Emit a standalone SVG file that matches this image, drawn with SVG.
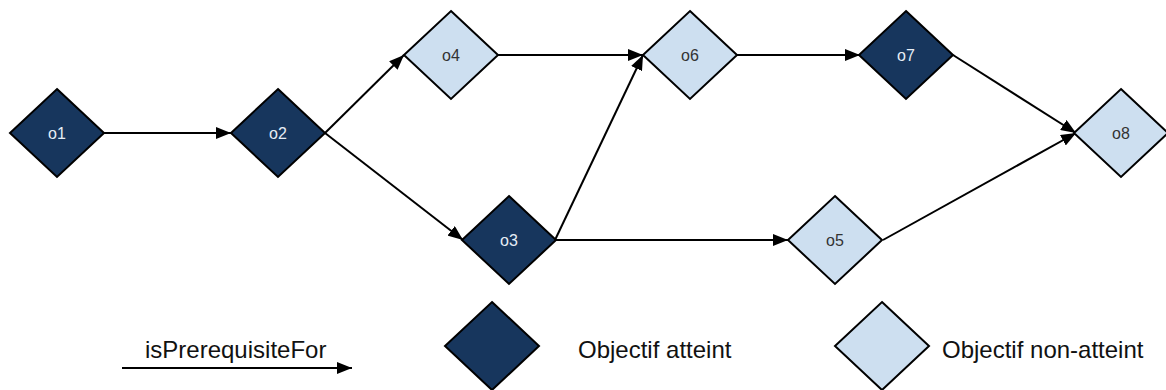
<svg xmlns="http://www.w3.org/2000/svg" width="1166" height="390" viewBox="0 0 1166 390">
<style>
.dk{fill:#17365d;stroke:#000;stroke-width:2;stroke-linejoin:miter}
.lt{fill:#cddff0;stroke:#000;stroke-width:2;stroke-linejoin:miter}
.lbl{font-family:"Liberation Sans",Arial,sans-serif;font-size:16px;text-anchor:middle}
.ldk{fill:#e6edf5}
.llt{fill:#333}
.leg{font-family:"Liberation Sans",Arial,sans-serif;font-size:24px;fill:#111}
.edge{fill:none;stroke:#000;stroke-width:2;marker-end:url(#arr)}
</style>
<defs>
<marker id="arr" markerUnits="userSpaceOnUse" markerWidth="16" markerHeight="12" refX="15" refY="6" orient="auto">
<path d="M0,0 L15,6 L0,12 Z" fill="#000"/>
</marker>
<path id="dia" d="M0,-44 L47,0 L0,44 L-47,0 Z"/>
</defs>
<rect width="1166" height="390" fill="#fff"/>
<g id="connectors">
<path class="edge" d="M103,133 L231,133"/>
<path class="edge" d="M325,133 L404,55"/>
<path class="edge" d="M325,133 L463,240"/>
<path class="edge" d="M498,55 L643,55"/>
<path class="edge" d="M555,240 L643,55"/>
<path class="edge" d="M555,240 L788,240"/>
<path class="edge" d="M737,55 L860,55"/>
<path class="edge" d="M953,55 L1076,133"/>
<path class="edge" d="M883,240 L1076,133"/>
</g>
<g id="o1"><use href="#dia" class="dk" x="57" y="133"/><text class="lbl ldk" x="57" y="139">o1</text></g>
<g id="o2"><use href="#dia" class="dk" x="278" y="133"/><text class="lbl ldk" x="278" y="139">o2</text></g>
<g id="o4"><use href="#dia" class="lt" x="451" y="55"/><text class="lbl llt" x="451" y="61">o4</text></g>
<g id="o3"><use href="#dia" class="dk" x="509" y="240"/><text class="lbl ldk" x="509" y="246">o3</text></g>
<g id="o6"><use href="#dia" class="lt" x="690" y="55"/><text class="lbl llt" x="690" y="61">o6</text></g>
<g id="o5"><use href="#dia" class="lt" x="835" y="240"/><text class="lbl llt" x="835" y="246">o5</text></g>
<g id="o7"><use href="#dia" class="dk" x="906" y="55"/><text class="lbl ldk" x="906" y="61">o7</text></g>
<g id="o8"><use href="#dia" class="lt" x="1121" y="133"/><text class="lbl llt" x="1121" y="139">o8</text></g>
<g id="legend">
<path d="M122,368 L352,368" fill="none" stroke="#000" stroke-width="2" marker-end="url(#arr)"/>
<text class="leg" x="145" y="358">isPrerequisiteFor</text>
<use href="#dia" class="dk" x="492" y="346"/>
<text class="leg" x="578" y="358">Objectif atteint</text>
<use href="#dia" class="lt" x="882" y="346"/>
<text class="leg" x="942" y="358">Objectif non-atteint</text>
</g>
</svg>
